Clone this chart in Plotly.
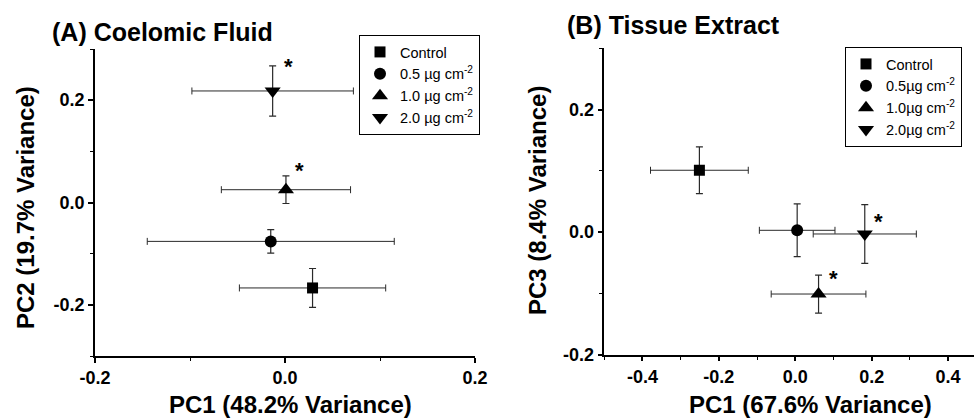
import plotly.graph_objects as go

FONT = "Liberation Sans, Arial, Helvetica, sans-serif"

# ---------------- data ----------------
groups = ["Control", "0.5", "1.0", "2.0"]
symbols = ["square", "circle", "triangle-up", "triangle-down"]
marker_sizes = [11, 12, 14, 14]

legend_a = ["Control", "0.5 µg cm<sup>-2</sup>", "1.0 µg cm<sup>-2</sup>", "2.0 µg cm<sup>-2</sup>"]
legend_b = ["Control", "0.5µg cm<sup>-2</sup>", "1.0µg cm<sup>-2</sup>", "2.0µg cm<sup>-2</sup>"]

# Panel A: Coelomic fluid (PC1 vs PC2)
a_pc1 = [0.029, -0.015, 0.001, -0.013]
a_pc1_err = [0.077, 0.130, 0.068, 0.085]
a_pc2 = [-0.167, -0.076, 0.025, 0.218]
a_pc2_err = [0.038, 0.023, 0.027, 0.049]
a_signif = [False, False, True, True]

# Panel B: Tissue extract (PC1 vs PC3)
b_pc1 = [-0.251, 0.005, 0.061, 0.182]
b_pc1_err = [0.128, 0.099, 0.124, 0.135]
b_pc3 = [0.101, 0.003, -0.101, -0.003]
b_pc3_err = [0.038, 0.043, 0.031, 0.048]
b_signif = [False, False, True, True]

a_xticks = [-0.2, 0.0, 0.2]
a_xticktext = ["-0.2", "0.0", "0.2"]
a_yticks = [-0.2, 0.0, 0.2]
a_yticktext = ["-0.2", "0.0", "0.2"]
b_xticks = [-0.4, -0.2, 0.0, 0.2, 0.4]
b_xticktext = ["-0.4", "-0.2", "0.0", "0.2", "0.4"]
b_yticks = [-0.2, 0.0, 0.2]
b_yticktext = ["-0.2", "0.0", "0.2"]

W, H = 974, 420

def px_x(p):
    return p / W

def px_y(p):
    return (H - p) / H

fig = go.Figure()

ERR_COLOR = "#2a2a2a"

def add_panel(xs, xe, ys, ye, names, xa, ya, legend):
    for i in range(len(groups)):
        fig.add_trace(go.Scatter(
            x=[xs[i]], y=[ys[i]], mode="markers", name=names[i],
            xaxis=xa, yaxis=ya, legend=legend,
            marker=dict(symbol=symbols[i], size=marker_sizes[i], color="black",
                        line=dict(width=0)),
            error_x=dict(type="data", array=[xe[i]], color=ERR_COLOR, thickness=1, width=3.5),
            error_y=dict(type="data", array=[ye[i]], color=ERR_COLOR, thickness=1.2, width=3.5),
        ))

add_panel(a_pc1, a_pc1_err, a_pc2, a_pc2_err, legend_a, "x", "y", "legend")
add_panel(b_pc1, b_pc1_err, b_pc3, b_pc3_err, legend_b, "x2", "y2", "legend2")

tickfont = dict(family=FONT, size=18, color="black", weight="bold")

def axis_common():
    return dict(showline=True, linecolor="black", linewidth=1.5, mirror=False,
                showgrid=False, zeroline=False, ticks="outside", ticklen=5,
                tickwidth=1.5, tickcolor="black", tickfont=tickfont,
                tickmode="array", automargin=False,
                minor=dict(tickmode="linear", tick0=0, dtick=0.1, ticks="outside",
                           ticklen=3.5, tickwidth=1.2, tickcolor="black", showgrid=False))

xa = axis_common(); xa.update(domain=[px_x(95), px_x(475)], range=[-0.2, 0.2],
                              tickvals=a_xticks, ticktext=a_xticktext, anchor="y")
ya = axis_common(); ya.update(domain=[px_y(356), px_y(49)], range=[-0.3, 0.3],
                              tickvals=a_yticks, ticktext=a_yticktext, anchor="x",
                              ticklabelstandoff=0)
xb = axis_common(); xb.update(domain=[px_x(604.3), 1.0], range=[-0.5, 0.468],
                              tickvals=b_xticks, ticktext=b_xticktext, anchor="y2")
yb = axis_common(); yb.update(domain=[px_y(354.7), px_y(48.3)], range=[-0.2, 0.3],
                              tickvals=b_yticks, ticktext=b_yticktext, anchor="x2",
                              ticklabelstandoff=0)

legfont = dict(family=FONT, size=14.5, color="black")

annotations = [
    dict(text="(A) Coelomic Fluid", x=px_x(50), y=px_y(32), xref="paper", yref="paper",
         xanchor="left", yanchor="middle", showarrow=False,
         font=dict(family=FONT, size=25, color="black", weight="bold")),
    dict(text="(B) Tissue Extract", x=px_x(565), y=px_y(25), xref="paper", yref="paper",
         xanchor="left", yanchor="middle", showarrow=False,
         font=dict(family=FONT, size=25, color="black", weight="bold")),
    dict(text="PC1 (48.2% Variance)", x=px_x(290), y=px_y(404), xref="paper", yref="paper",
         xanchor="center", yanchor="middle", showarrow=False,
         font=dict(family=FONT, size=24, color="black", weight="bold")),
    dict(text="PC1 (67.6% Variance)", x=px_x(810), y=px_y(404), xref="paper", yref="paper",
         xanchor="center", yanchor="middle", showarrow=False,
         font=dict(family=FONT, size=24, color="black", weight="bold")),
    dict(text="PC2 (19.7% Variance)", x=px_x(25), y=px_y(208), xref="paper", yref="paper",
         xanchor="center", yanchor="middle", showarrow=False, textangle=-90,
         font=dict(family=FONT, size=24, color="black", weight="bold")),
    dict(text="PC3 (8.4% Variance)", x=px_x(538), y=px_y(201), xref="paper", yref="paper",
         xanchor="center", yanchor="middle", showarrow=False, textangle=-90,
         font=dict(family=FONT, size=24, color="black", weight="bold")),
]

star_font = dict(family=FONT, size=22, color="black", weight="bold")
a_star_shift = [None, None, (14, 19), (16, 24)]
b_star_shift = [None, None, (15, 16), (14, 12)]
for i in range(len(groups)):
    if a_signif[i]:
        dx, dy = a_star_shift[i]
        annotations.append(dict(text="*", x=a_pc1[i], y=a_pc2[i], xref="x", yref="y",
                                xshift=dx, yshift=dy, showarrow=False, font=star_font))
    if b_signif[i]:
        dx, dy = b_star_shift[i]
        annotations.append(dict(text="*", x=b_pc1[i], y=b_pc3[i], xref="x2", yref="y2",
                                xshift=dx, yshift=dy, showarrow=False, font=star_font))

fig.update_layout(
    width=W, height=H, autosize=False,
    margin=dict(l=0, r=0, t=0, b=0, pad=0, autoexpand=False),
    paper_bgcolor="white", plot_bgcolor="white",
    xaxis=xa, yaxis=ya, xaxis2=xb, yaxis2=yb,
    showlegend=True,
    legend=dict(x=px_x(359), y=px_y(35), xanchor="left", yanchor="top",
                bordercolor="black", borderwidth=1, bgcolor="white", font=legfont,
                tracegroupgap=0, itemsizing="trace"),
    legend2=dict(x=px_x(845), y=px_y(47), xanchor="left", yanchor="top",
                 bordercolor="black", borderwidth=1, bgcolor="white", font=legfont,
                 tracegroupgap=0, itemsizing="trace"),
    annotations=annotations,
)

fig.write_html(
    "out.html",
    config={"displayModeBar": False},
    post_script="document.body.style.margin='0';document.body.style.overflow='hidden';",
)
